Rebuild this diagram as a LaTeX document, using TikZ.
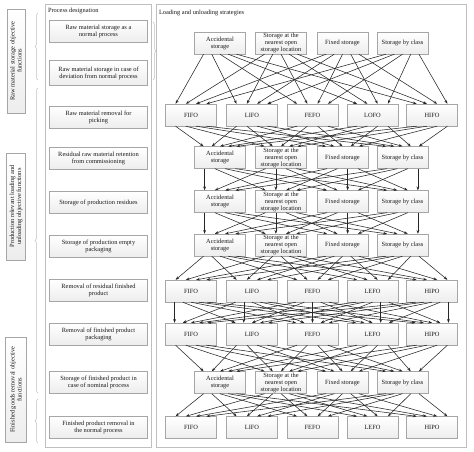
\documentclass[tikz,border=0pt]{standalone}
\usepackage{fontspec}
\setmainfont{Liberation Serif}
\usetikzlibrary{calc,arrows.meta,shadows,decorations.pathreplacing}
\newcommand\linkrows[4]{%
  \foreach \i in {1,...,#2}{%
    \foreach \j in {1,...,#4}{%
      \pgfmathsetmacro\fs{0.1+0.8*(\j-0.5)/#4}%
      \pgfmathsetmacro\ft{0.1+0.8*(\i-0.5)/#2}%
      \draw[arr] ($(r#1c\i.south west)!\fs!(r#1c\i.south east)$) -- ($(r#3c\j.north west)!\ft!(r#3c\j.north east)$);
    }%
  }%
}
\newcommand\storagerow[2]{%
  \foreach \x/\t [count=\k] in {220/{Accidental\\storage},281/{Storage at the\\nearest open\\storage location},342.5/{Fixed storage},402.5/{Storage by class}}{%
    \node[box] (r#1c\k) at (\x,#2) {\t};
  }%
}
\newcommand\fiforow[4]{%
  \foreach \x/\t [count=\k] in {191/FIFO,252/LIFO,312.5/FEFO,372.5/{#3},432/{#4}}{%
    \node[box] (r#1c\k) at (\x,#2) {\t};
  }%
}
\begin{document}
\begin{tikzpicture}[x=1pt,y=-1pt,
  font=\fontsize{6.4}{7}\selectfont,
  shad/.style={drop shadow={opacity=0.22,shadow xshift=0.9pt,shadow yshift=-0.9pt}},
  box/.style={draw=gray!70, top color=white, bottom color=gray!14, minimum width=51pt, minimum height=22pt,
    inner sep=1pt, align=center, text=black!90, shad},
  pbox/.style={box, minimum width=98pt},
  lbox/.style={box, rotate=90},
  panel/.style={draw=gray!50, fill=white, shad},
  arr/.style={-{Stealth[length=3.8pt,width=2.8pt]}, line width=0.55pt, draw=black!85},
  brc/.style={draw=gray!50, line width=0.5pt, decorate, decoration={brace, amplitude=3pt}}]
\useasboundingbox (0,0) rectangle (474,451);
% panels
\node[panel, minimum width=106pt, minimum height=443pt] (lp) at (98,225.5) {};
\node[panel, minimum width=310pt, minimum height=443pt] (rp) at (311,225.5) {};
\node[anchor=north west, inner sep=0pt, text=black!90] (lpt) at ($(lp.north west)+(3,4)$) {Process designation};
\node[anchor=north west, inner sep=0pt, text=black!90] (rpt) at ($(rp.north west)+(3,6)$) {Loading and unloading strategies};
% left labels
\node[lbox, minimum width=104pt, minimum height=18pt] (l1) at (16,61) {Raw material storage objective\\functions};
\node[lbox, minimum width=107pt, minimum height=19pt] (l2) at (16,206.5) {Production relevant loading and\\unloading objective functions};
\node[lbox, minimum width=105pt, minimum height=21pt] (l3) at (16,389.5) {Finished goods removal objective\\functions};
% braces
\coordinate (b1a) at (38,80); \coordinate (b1b) at (38,13);
\coordinate (b2a) at (38,393); \coordinate (b2b) at (38,88);
\coordinate (b3a) at (38,443); \coordinate (b3b) at (38,399);
\coordinate (b4a) at (153,22); \coordinate (b4b) at (153,80);
\draw[brc] (b1a) -- (b1b);
\draw[brc] (b2a) -- (b2b);
\draw[brc] (b3a) -- (b3b);
\draw[brc] (b4a) -- (b4b);
% process boxes
\node[pbox] (p1) at (98.5,31) {Raw material storage as a\\normal process};
\node[pbox, minimum height=25pt] (p2) at (98.5,73) {Raw material storage in case of\\deviation from normal process};
\node[pbox] (p3) at (98.5,117) {Raw material removal for\\picking};
\node[pbox] (p4) at (98.5,158.5) {Residual raw material retention\\from commissioning};
\node[pbox] (p5) at (98.5,202.5) {Storage of production residues};
\node[pbox] (p6) at (98.5,246) {Storage of production empty\\packaging};
\node[pbox] (p7) at (98.5,290.5) {Removal of residual finished\\product};
\node[pbox] (p8) at (98.5,334) {Removal of finished product\\packaging};
\node[pbox] (p9) at (98.5,382) {Storage of finished product in\\case of nominal process};
\node[pbox] (p10) at (98.5,427) {Finished product removal in\\the normal process};
% strategy rows
\storagerow{1}{43}
\fiforow{2}{115}{LOFO}{HIFO}
\storagerow{3}{157.5}
\storagerow{4}{201.5}
\storagerow{5}{245}
\fiforow{6}{291}{LEFO}{HIPO}
\fiforow{7}{334}{LEFO}{HIPO}
\storagerow{8}{382.5}
\fiforow{9}{427.5}{LEFO}{HIPO}
% connectors
\linkrows{1}{4}{2}{5}
\linkrows{2}{5}{3}{4}
\linkrows{3}{4}{4}{4}
\linkrows{4}{4}{5}{4}
\linkrows{5}{4}{6}{5}
\linkrows{6}{5}{7}{5}
\linkrows{7}{5}{8}{4}
\linkrows{8}{4}{9}{5}
\end{tikzpicture}
\end{document}
